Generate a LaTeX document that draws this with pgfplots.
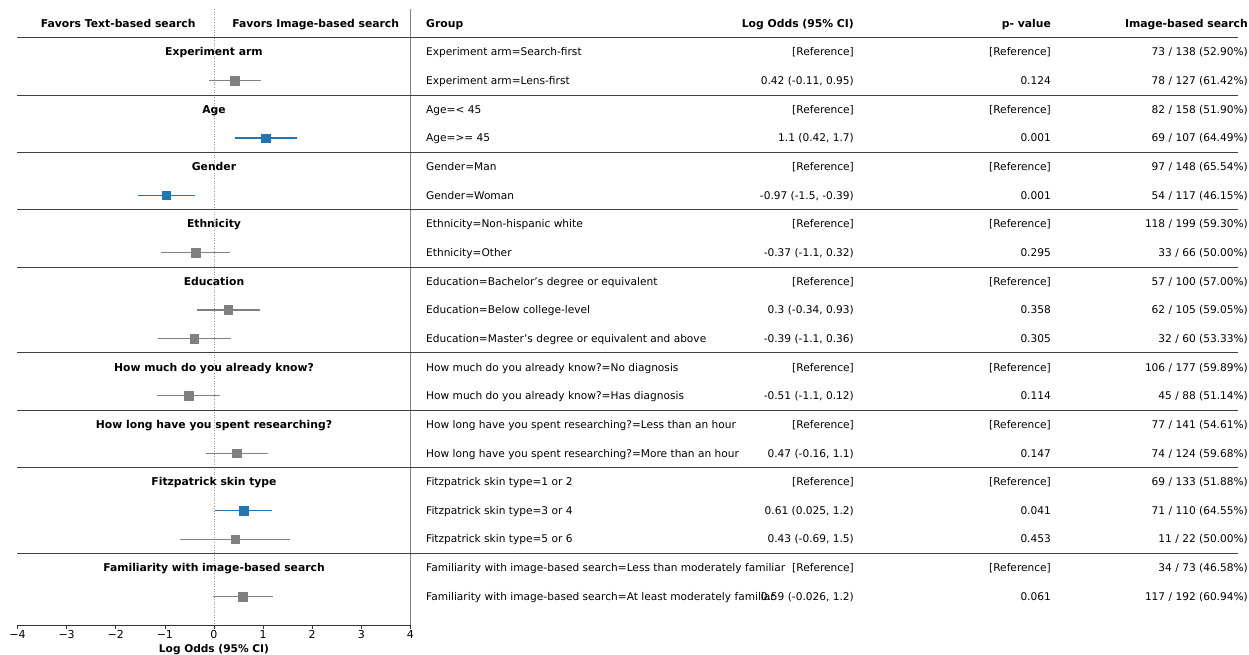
\documentclass[border=0pt]{standalone}
\usepackage{fontspec}
\setmainfont{DejaVu Sans}
\usepackage{pgfplots}
\usepackage{pgfplotstable}
\pgfplotsset{compat=1.18}

\definecolor{fgray}{HTML}{808080}
\definecolor{fblue}{HTML}{1F77B4}

% row  est  lo  hi   (rows count down from the header row 0)
\pgfplotstableread{
row est lo hi
2 0.42 -0.11 0.95
8 -0.37 -1.07 0.33
10 0.29 -0.34 0.94
11 -0.40 -1.14 0.35
13 -0.515 -1.15 0.12
15 0.46 -0.16 1.10
18 0.43 -0.69 1.55
20 0.59 -0.03 1.21
}\grayrows
\pgfplotstableread{
row est lo hi
4 1.05 0.42 1.68
6 -0.97 -1.55 -0.39
17 0.61 0.02 1.19
}\bluerows

% one table line: row, group, log odds, p value, counts
\newcommand\trow[5]{%
  \node[anchor=west] at (axis cs:4.316,#1) {#2};
  \node[anchor=east] at (axis cs:13.03,#1) {#3};
  \node[anchor=east] at (axis cs:17.04,#1) {#4};
  \node[anchor=east] at (axis cs:21.05,#1) {#5};
}
\tikzset{hd/.style={font=\fontsize{10.8}{13}\selectfont\bfseries, text height=7.85pt}}
\newcommand\ghead[2]{\node[hd] at (axis cs:0,#1) {#2};}
\newcommand\sep[1]{\draw[black!75, line width=0.8pt] (axis cs:-4,#1) -- (axis cs:20.84,#1);}

\begin{document}
\begin{tikzpicture}[font=\fontsize{10.6}{12.7}\selectfont,
  every node/.style={inner sep=0pt, text height=7.7pt, text depth=0pt}]
\begin{axis}[
  scale only axis, width=393pt, height=616pt,
  xmin=-4, xmax=4, ymin=-0.5, ymax=21, y dir=reverse,
  axis x line*=bottom, axis y line*=right,
  y axis line style={fgray, line width=0.8pt},
  x axis line style={black!80, line width=0.8pt},
  ytick=\empty,
  xtick={-4,...,4},
  xticklabels={−4,−3,−2,−1,0,1,2,3,4},
  tick align=outside, major tick length=3.5pt,
  tick style={black!80, line width=0.6pt},
  xticklabel style={inner sep=2pt, font=\fontsize{11}{13}\selectfont, text height=8pt, text depth=0pt},
  xlabel={\bfseries Log Odds (95\% CI)},
  xlabel style={inner sep=0pt, yshift=-3.5pt},
  clip=false,
]
\coordinate (bbl) at (axis cs:-4.356,22.01);
\coordinate (bbr) at (axis cs:21.07,-0.817);

\draw[fgray!80, dotted, line width=0.6pt] (axis cs:0,-0.5) -- (axis cs:0,21);
\sep{0.5}\sep{2.5}\sep{4.5}\sep{6.5}\sep{8.5}\sep{11.5}\sep{13.5}\sep{15.5}\sep{18.5}

\addplot[only marks, mark=square*, mark size=4.3pt, color=fgray,
  error bars/.cd, x dir=both, x explicit, error mark=none,
  error bar style={line width=1.2pt, fgray}]
  table[x=est, y=row, x error plus expr=\thisrow{hi}-\thisrow{est},
        x error minus expr=\thisrow{est}-\thisrow{lo}] {\grayrows};
\addplot[only marks, mark=square*, mark size=4.3pt, color=fblue,
  error bars/.cd, x dir=both, x explicit, error mark=none,
  error bar style={line width=1.5pt, fblue}]
  table[x=est, y=row, x error plus expr=\thisrow{hi}-\thisrow{est},
        x error minus expr=\thisrow{est}-\thisrow{lo}] {\bluerows};

% header row
\node[hd] at (axis cs:-1.95,0) {Favors Text-based search};
\node[hd] at (axis cs:2.07,0) {Favors Image-based search};
\node[hd, anchor=west] at (axis cs:4.316,0) {Group};
\node[hd, anchor=east] at (axis cs:13.03,0) {Log Odds (95\% CI)};
\node[hd, anchor=east] at (axis cs:17.04,0) {p- value};
\node[hd, anchor=east] at (axis cs:21.05,0) {Image-based search};

\ghead{1}{Experiment arm}
\ghead{3}{Age}
\ghead{5}{Gender}
\ghead{7}{Ethnicity}
\ghead{9}{Education}
\ghead{12}{How much do you already know?}
\ghead{14}{How long have you spent researching?}
\ghead{16}{Fitzpatrick skin type}
\ghead{19}{Familiarity with image-based search}

\trow{1}{Experiment arm=Search-first}{[Reference]}{[Reference]}{73 / 138 (52.90\%)}
\trow{2}{Experiment arm=Lens-first}{0.42 (-0.11, 0.95)}{0.124}{78 / 127 (61.42\%)}
\trow{3}{Age=< 45}{[Reference]}{[Reference]}{82 / 158 (51.90\%)}
\trow{4}{Age=>= 45}{1.1 (0.42, 1.7)}{0.001}{69 / 107 (64.49\%)}
\trow{5}{Gender=Man}{[Reference]}{[Reference]}{97 / 148 (65.54\%)}
\trow{6}{Gender=Woman}{-0.97 (-1.5, -0.39)}{0.001}{54 / 117 (46.15\%)}
\trow{7}{Ethnicity=Non-hispanic white}{[Reference]}{[Reference]}{118 / 199 (59.30\%)}
\trow{8}{Ethnicity=Other}{-0.37 (-1.1, 0.32)}{0.295}{33 / 66 (50.00\%)}
\trow{9}{Education=Bachelor's degree or equivalent}{[Reference]}{[Reference]}{57 / 100 (57.00\%)}
\trow{10}{Education=Below college-level}{0.3 (-0.34, 0.93)}{0.358}{62 / 105 (59.05\%)}
\trow{11}{Education=Master's degree or equivalent and above}{-0.39 (-1.1, 0.36)}{0.305}{32 / 60 (53.33\%)}
\trow{12}{How much do you already know?=No diagnosis}{[Reference]}{[Reference]}{106 / 177 (59.89\%)}
\trow{13}{How much do you already know?=Has diagnosis}{-0.51 (-1.1, 0.12)}{0.114}{45 / 88 (51.14\%)}
\trow{14}{How long have you spent researching?=Less than an hour}{[Reference]}{[Reference]}{77 / 141 (54.61\%)}
\trow{15}{How long have you spent researching?=More than an hour}{0.47 (-0.16, 1.1)}{0.147}{74 / 124 (59.68\%)}
\trow{16}{Fitzpatrick skin type=1 or 2}{[Reference]}{[Reference]}{69 / 133 (51.88\%)}
\trow{17}{Fitzpatrick skin type=3 or 4}{0.61 (0.025, 1.2)}{0.041}{71 / 110 (64.55\%)}
\trow{18}{Fitzpatrick skin type=5 or 6}{0.43 (-0.69, 1.5)}{0.453}{11 / 22 (50.00\%)}
\trow{19}{Familiarity with image-based search=Less than moderately familiar}{[Reference]}{[Reference]}{34 / 73 (46.58\%)}
\trow{20}{Familiarity with image-based search=At least moderately familiar}{0.59 (-0.026, 1.2)}{0.061}{117 / 192 (60.94\%)}
\end{axis}
\pgfresetboundingbox
\path (bbl) rectangle (bbr);
\end{tikzpicture}
\end{document}
